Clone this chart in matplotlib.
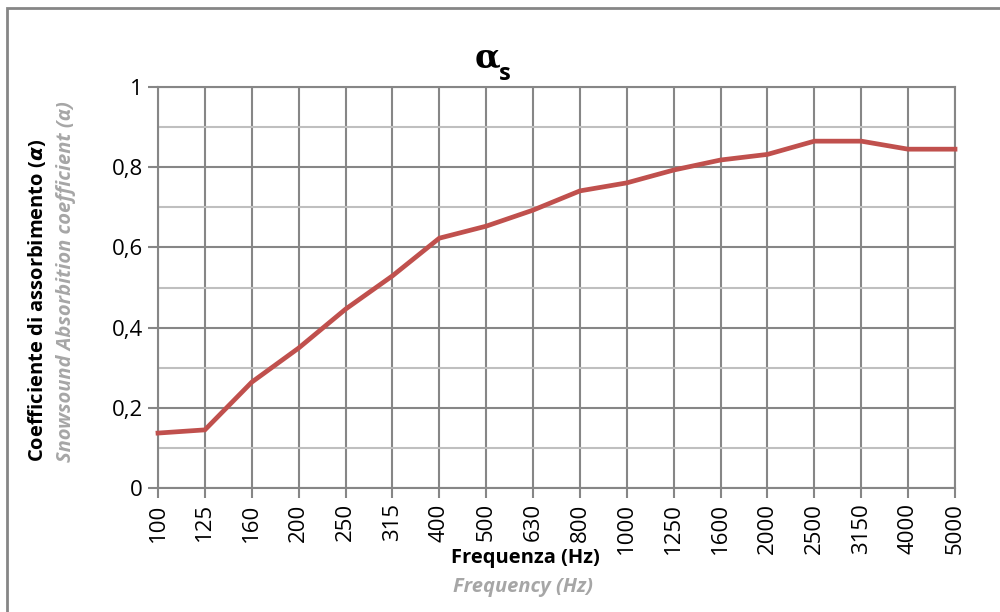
import matplotlib
matplotlib.use("Agg")
import matplotlib.pyplot as plt
from matplotlib.patches import Rectangle
from matplotlib.ticker import MultipleLocator

categories = ["100", "125", "160", "200", "250", "315", "400", "500", "630", "800",
              "1000", "1250", "1600", "2000", "2500", "3150", "4000", "5000"]
alpha_s = [0.137, 0.145, 0.264, 0.349, 0.446, 0.529, 0.623, 0.653, 0.693, 0.741,
           0.761, 0.793, 0.818, 0.832, 0.865, 0.865, 0.845, 0.845]
y_ticks = [0, 0.2, 0.4, 0.6, 0.8, 1.0]
y_tick_labels = ["0", "0,2", "0,4", "0,6", "0,8", "1"]

plt.rcParams['font.family'] = ['Open Sans', 'DejaVu Sans']

fig = plt.figure(figsize=(10, 6.12), dpi=100)
ax = fig.add_axes([0.158, 0.2026, 0.797, 0.6552])

x = list(range(len(categories)))
ax.plot(x, alpha_s, color="#C0504D", lw=3.4, solid_joinstyle="miter", zorder=5, clip_on=False)

ax.set_xlim(0, len(categories) - 1)
ax.set_ylim(0, 1)
ax.set_xticks(x)
ax.set_xticklabels(categories, rotation=90, fontsize=16)
ax.set_yticks(y_ticks)
ax.set_yticklabels(y_tick_labels, fontsize=16)
ax.yaxis.set_minor_locator(MultipleLocator(0.1))

ax.grid(True, which="major", axis="both", color="#868686", lw=1.5, zorder=1)
ax.grid(True, which="minor", axis="y", color="#BFBFBF", lw=1.5, zorder=0)
ax.tick_params(axis="both", which="major", direction="out", length=7, width=1.5,
               color="#868686", pad=4)
ax.tick_params(axis="y", which="minor", length=0)
for s in ax.spines.values():
    s.set_color("#868686")
    s.set_linewidth(1.5)

# Title
fig.text(0.487, 1 - 67 / 612, "α", fontsize=24, fontweight="bold", ha="center", va="baseline",
         family=["DejaVu Serif"])
fig.text(0.4985, 1 - 80 / 612, "s", fontsize=17, fontweight="bold", ha="left", va="baseline")

# Y labels
fig.text(0.037, 1 - 462 / 612, "Coefficiente di assorbimento ($\\boldsymbol{\\alpha}$)", rotation=90,
         fontsize=14.5, fontweight="bold", ha="center", va="bottom", color="black")
fig.text(0.066, 1 - 462 / 612, "Snowsound Absorbition coefficient (α)", rotation=90,
         fontsize=14.5, fontweight="bold", style="italic", ha="center", va="bottom",
         color="#A6A6A6")

# X labels
fig.text(0.525, 1 - 558 / 612, "Frequenza (Hz)", fontsize=14.5, fontweight="bold",
         ha="center", va="center", color="black")
fig.text(0.523, 1 - 587 / 612, "Frequency (Hz)", fontsize=14.5, fontweight="bold", style="italic",
         ha="center", va="center", color="#A6A6A6")

# Outer border
fig.patches.append(Rectangle((0.007, -0.05), 1.1, 0.05 + 1 - 8 / 612, transform=fig.transFigure,
                             fill=False, edgecolor="#868686", lw=2, zorder=10))

fig.savefig("out.png", dpi=100)
